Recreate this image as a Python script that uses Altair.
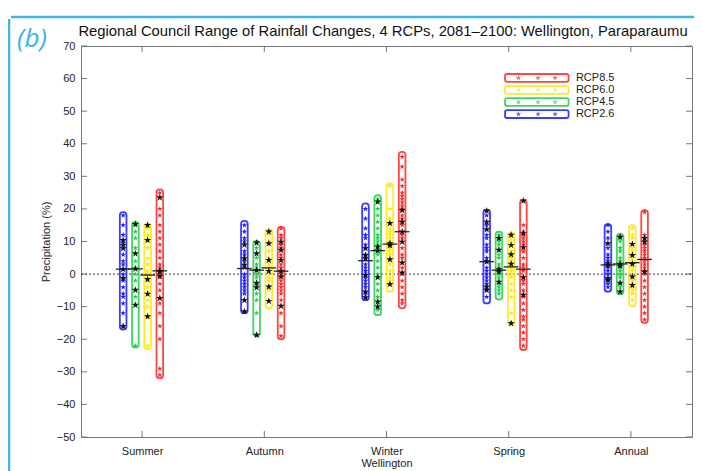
import altair as alt
import pandas as pd

seasons = ["Summer", "Autumn", "Winter", "Spring", "Annual"]
rcps = ["RCP2.6", "RCP4.5", "RCP6.0", "RCP8.5"]
rcp_colors = ["#1a1aff", "#1fcf45", "#ffe600", "#ff2424"]

# order inside each list: RCP2.6, RCP4.5, RCP6.0, RCP8.5
box_top = {
    "Summer": [19, 16, 15.5, 26],
    "Autumn": [16.3, 10.2, 13.7, 14.5],
    "Winter": [21.7, 24.2, 27.8, 37.5],
    "Spring": [19.8, 13, 12.7, 22.7],
    "Annual": [15.3, 12.3, 15, 19.6],
}
box_bottom = {
    "Summer": [-17, -22.5, -23, -32],
    "Autumn": [-12, -19, -10.5, -20],
    "Winter": [-8, -12.6, -5.4, -10.5],
    "Spring": [-9, -7.8, -15.7, -23.3],
    "Annual": [-5.4, -6.2, -9.8, -15],
}
box_mean = {
    "Summer": [1.5, 1.6, -0.3, 1],
    "Autumn": [1.7, 1.2, 1.9, 0.9],
    "Winter": [4.1, 7.2, 9.2, 13],
    "Spring": [3.8, 1.2, 2.2, 1.5],
    "Annual": [2.8, 3.1, 3.5, 4.5],
}
black_stars = {
    "Summer": [[10.4, 8.9, 7.9, 1.5, -1.3, -16], [15.3, 6.3, 1.6, -4.9, -9.5],
               [15, 10.4, -1.6, -6.1, -13], [23.5, 1, 0.7, -0.6, -7.4]],
    "Autumn": [[9, 4.8, 2.8, -8, -11.5], [9.6, 6.3, 1.2, -2.7, -4.1, -18.7],
               [13, 9.4, 4.3, 0.9, -3.9, -8.3], [9.9, 7.4, 4.3, 0.9, -0.8, -9.8]],
    "Winter": [[7.9, 5.8, 4.8, -0.3, -5.4, -7.2], [22.2, 8.4, 7.2, -1, -8.5, -10],
               [15.6, 9.4, 8.8, 4.5, -3.1], [19.6, 16, 13, 9.9, 3.5, 0.4]],
    "Spring": [[19.4, 16, 13.7, 3.8, -3.9, -4.9], [11, 7.4, 1.4, 0.7, -2.4],
               [12, 8.9, 6, 3.1, -15.1], [22.5, 12.5, 8.2, -1, -6.4]],
    "Annual": [[9.4, 3.3, 2.8, -1.3, -1.8], [11.4, 3.1, 2.5, -2.7, -5.4],
               [9.2, 5.8, 3.1, -0.8, -3.4], [11, 9.9, 0.7]],
}
color_stars = {
    "Summer": [[18, 15, 12, 9.5, 6, 4, 3, 0, -2, -4, -6, -7, -9, -12],
               [15, 13, 11, 8, 4, 2, 0, -2, -7, -22],
               [14, 12, 8, 5, 3, 1, 0, -2, -4, -8, -10, -22],
               [25, 20, 18, 15, 13, 11, 9, 7, 5, 3, 2, -1, -3, -5, -9, -12, -16, -20, -29, -31]],
    "Autumn": [[15, 13, 11, 10, 7, 6, 4, 2, 0, -1, -2, -3, -4, -5, -6],
               [8, 5, 3, 2, 0, -1, -3, -6, -8, -12],
               [12, 10, 7, 5, 3, 2, 1, -1, -2, -5],
               [14, 12, 11, 9, 8, 6, 5, 3, 2, 0, -2, -3, -4, -5, -6, -8, -12, -16, -19]],
    "Winter": [[20, 17, 14, 12, 11, 9, 8, 6, 3, 2, 1, -1, -2, -3, -4, -6],
               [23, 20, 18, 16, 14, 12, 11, 10, 9, 7, 6, 4, 2, 0, -3, -5, -7, -11],
               [27, 20, 17, 14, 13, 12, 11, 10, 8, 7, 6, 3, 1, -1, -2],
               [36, 33, 29, 27, 25, 24, 23, 22, 21, 20, 18, 17, 15, 12, 11, 8, 6, 5, 2, 0, -2, -4, -6, -8, -9]],
    "Spring": [[18, 15, 12, 11, 9, 8, 7, 5, 4, 2, 1, 0, -1, -2, -3, -5, -7],
               [12, 10, 9, 6, 5, 3, 2, 0, -1, -3, -4, -5, -6],
               [11, 10, 7, 5, 4, 2, 1, 0, -1, -3, -5, -7, -12],
               [15, 13, 12, 11, 10, 9, 7, 5, 3, 2, 1, -1, -2, -3, -5, -7, -9, -11, -13, -14, -16, -18, -20, -22]],
    "Annual": [[15, 13, 11, 8, 6, 5, 4, 2, 1, 0, -2, -3, -4],
               [11, 10, 8, 7, 5, 4, 2, 1, 0, -1, -3, -4],
               [14, 12, 11, 8, 7, 5, 4, 2, 1, 0, -1, -2, -4, -5, -6, -8],
               [19, 12, 11, 10, 9, 8, 7, 6, 5, 4, 3, 2, 1, 0, -2, -4, -6, -8, -10, -12, -14]],
}
legend_labels = ["RCP8.5", "RCP6.0", "RCP4.5", "RCP2.6"]
y_ticks = list(range(-50, 71, 10))
title_text = "Regional Council Range of Rainfall Changes, 4 RCPs, 2081\u20132100: Wellington, Paraparaumu"

# ---- layout constants ----
W, H = 611, 391
group_shift = [-0.005, -0.013, -0.022, -0.03, -0.038]
rcp_offset = [-0.15, -0.05, 0.05, 0.15]
box_half = 0.027
mean_half = 0.06
legend_y = [60.2, 56.5, 52.8, 49.1]
legend_star_x = [4.08, 4.24, 4.38]
FONT = "Liberation Sans"
STAR = ("M0,-1L0.225,-0.309L0.951,-0.309L0.363,0.118L0.588,0.809L0,0.382"
        "L-0.588,0.809L-0.363,0.118L-0.951,-0.309L-0.225,-0.309Z")

boxes, stars = [], []
for si, s in enumerate(seasons):
    for ri, r in enumerate(rcps):
        xc = si + 1 + group_shift[si] + rcp_offset[ri]
        boxes.append(dict(season=s, rcp=r, x=xc - box_half, x2=xc + box_half,
                          xm=xc - mean_half, xm2=xc + mean_half,
                          lo=box_bottom[s][ri], hi=box_top[s][ri], mean=box_mean[s][ri]))
        for v in color_stars[s][ri]:
            stars.append(dict(rcp=r, x=xc, v=v, kind="c"))
        for v in black_stars[s][ri]:
            stars.append(dict(rcp=r, x=xc, v=v, kind="k"))
box_df = pd.DataFrame(boxes)
star_df = pd.DataFrame(stars)
cstar_df = star_df[star_df["kind"] == "c"]
kstar_df = star_df[star_df["kind"] == "k"]

xscale = alt.Scale(domain=[0.5, 5.5], nice=False, zero=False)
yscale = alt.Scale(domain=[-50, 70], nice=False, zero=False)
cscale = alt.Scale(domain=rcps, range=rcp_colors)

label_expr = "['','Summer','Autumn','Winter','Spring','Annual'][datum.value]"
x_axis = alt.Axis(values=[1, 2, 3, 4, 5], labelExpr=label_expr, ticks=False, domain=False,
                  grid=False, labelFlush=False, labelPadding=8, labelFontSize=11,
                  labelFont=FONT, labelColor="#222", title="Wellington", titleFont=FONT,
                  titleFontSize=11, titleFontWeight="normal", titleColor="#222", titlePadding=1)
y_axis = alt.Axis(values=y_ticks, ticks=False, domain=False, grid=False, labelFlush=False,
                  labelPadding=6, labelFontSize=11, labelFont=FONT, labelColor="#222",
                  title="Precipitation (%)", titleFont=FONT, titleFontSize=11,
                  titleFontWeight="normal", titleColor="#222", titlePadding=5)

# manual inward ticks
ytick_df = pd.DataFrame({"v": y_ticks})
xtick_df = pd.DataFrame({"c": [1, 2, 3, 4, 5]})
tick_col = "#777"
yt_left = alt.Chart(ytick_df).mark_rule(color=tick_col, strokeWidth=1).encode(
    y=alt.Y("v:Q", scale=yscale, axis=y_axis), x=alt.value(0), x2=alt.value(6))
yt_right = alt.Chart(ytick_df).mark_rule(color=tick_col, strokeWidth=1).encode(
    y=alt.Y("v:Q", scale=yscale, axis=y_axis), x=alt.value(W - 6), x2=alt.value(W))
xt_bot = alt.Chart(xtick_df).mark_rule(color=tick_col, strokeWidth=1).encode(
    x=alt.X("c:Q", scale=xscale, axis=x_axis), y=alt.value(H - 6), y2=alt.value(H))
xt_top = alt.Chart(xtick_df).mark_rule(color=tick_col, strokeWidth=1).encode(
    x=alt.X("c:Q", scale=xscale, axis=x_axis), y=alt.value(0), y2=alt.value(6))

zero_df = pd.DataFrame({"z": [0]})
zero_line = alt.Chart(zero_df).mark_rule(color="#333", strokeDash=[2, 2], strokeWidth=1).encode(
    y=alt.Y("z:Q", scale=yscale, axis=y_axis), x=alt.value(0), x2=alt.value(W))

box_layer = alt.Chart(box_df).mark_rect(filled=False, strokeWidth=1.8, cornerRadius=3,
                                        strokeOpacity=0.85).encode(
    x=alt.X("x:Q", scale=xscale, axis=x_axis), x2="x2:Q",
    y=alt.Y("lo:Q", scale=yscale, axis=y_axis), y2="hi:Q",
    stroke=alt.Stroke("rcp:N", scale=cscale, legend=None))

cstar_layer = alt.Chart(cstar_df).mark_point(
    shape=STAR, filled=True, size=34, opacity=1).encode(
    x=alt.X("x:Q", scale=xscale, axis=x_axis),
    y=alt.Y("v:Q", scale=yscale, axis=y_axis),
    color=alt.Color("rcp:N", scale=cscale, legend=None))

mean_layer = alt.Chart(box_df).mark_rule(color="#222", strokeWidth=1.3).encode(
    x=alt.X("xm:Q", scale=xscale, axis=x_axis), x2="xm2:Q",
    y=alt.Y("mean:Q", scale=yscale, axis=y_axis))

kstar_layer = alt.Chart(kstar_df).mark_point(
    shape=STAR, filled=True, size=60, color="#111", opacity=1).encode(
    x=alt.X("x:Q", scale=xscale, axis=x_axis),
    y=alt.Y("v:Q", scale=yscale, axis=y_axis))

# legend
leg_df = pd.DataFrame({"label": legend_labels, "rcp": legend_labels, "y": legend_y})
leg_df["ylo"] = leg_df["y"] - 1.2
leg_df["yhi"] = leg_df["y"] + 1.2
leg_df["x1"] = 3.97
leg_df["x2"] = 4.49
leg_df["xt"] = 4.55
leg_star_df = pd.DataFrame([dict(rcp=l, y=y, x=sx) for l, y in zip(legend_labels, legend_y)
                            for sx in legend_star_x])
leg_rect = alt.Chart(leg_df).mark_rect(filled=False, strokeWidth=1.8, cornerRadius=2,
                                       strokeOpacity=0.85).encode(
    x=alt.X("x1:Q", scale=xscale, axis=x_axis), x2="x2:Q",
    y=alt.Y("ylo:Q", scale=yscale, axis=y_axis), y2="yhi:Q",
    stroke=alt.Stroke("rcp:N", scale=cscale, legend=None))
leg_stars = alt.Chart(leg_star_df).mark_point(shape=STAR, filled=True, size=34).encode(
    x=alt.X("x:Q", scale=xscale, axis=x_axis),
    y=alt.Y("y:Q", scale=yscale, axis=y_axis),
    color=alt.Color("rcp:N", scale=cscale, legend=None))
leg_text = alt.Chart(leg_df).mark_text(align="left", baseline="middle", font=FONT,
                                       fontSize=11, color="#222").encode(
    x=alt.X("xt:Q", scale=xscale, axis=x_axis),
    y=alt.Y("y:Q", scale=yscale, axis=y_axis), text="label:N")

# title, panel letter, outer frame
one = pd.DataFrame({"t": [title_text]})
title_layer = alt.Chart(one).mark_text(font=FONT, fontSize=14.8, color="#111",
                                       align="center", baseline="middle").encode(
    text="t:N", x=alt.value(302), y=alt.value(-14))
letter_layer = alt.Chart(pd.DataFrame({"t": ["(b)"]})).mark_text(
    font="Open Sans", fontSize=26, fontStyle="italic", color="#3fb1e3",
    align="center", baseline="middle").encode(text="t:N", x=alt.value(-49), y=alt.value(-7))
frame_v = alt.Chart(pd.DataFrame({"a": [0]})).mark_rule(color="#3db5e6", strokeWidth=2.5).encode(
    x=alt.value(-72), y=alt.value(-27), y2=alt.value(H + 50))
frame_h = alt.Chart(pd.DataFrame({"a": [0]})).mark_rule(color="#3db5e6", strokeWidth=2.5).encode(
    x=alt.value(-70), x2=alt.value(W + 10), y=alt.value(-29))

chart = alt.layer(
    frame_v, frame_h, yt_left, yt_right, xt_bot, xt_top, zero_line,
    box_layer, cstar_layer, mean_layer, kstar_layer,
    leg_rect, leg_stars, leg_text, title_layer, letter_layer,
).resolve_scale(color="shared", stroke="shared").properties(
    width=W, height=H,
    autosize=alt.AutoSizeParams(type="none"),
    padding={"left": 73, "top": 38, "right": 2, "bottom": 36},
    background="white",
).configure_view(stroke="#777", strokeWidth=1)

chart.save("out.html", embed_options={"renderer": "svg", "actions": False})
